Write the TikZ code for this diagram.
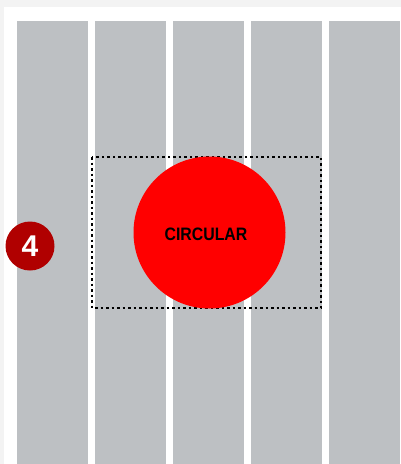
\documentclass[tikz,border=0pt]{standalone}
\usepackage{fontspec}
\setmainfont{Liberation Sans}
\usetikzlibrary{positioning}
\definecolor{Lane}{HTML}{BDC0C3}
\definecolor{Marker}{HTML}{B00000}
\definecolor{Frame}{HTML}{F3F3F3}

\begin{document}
\begin{tikzpicture}[x=1pt,y=-1pt]
    \useasboundingbox (0,0) rectangle (401,464);
    \fill[Frame] (0,0) rectangle (401,464);
    \fill[white] (4,7) rectangle (401,464);
    % vertical lanes
    \foreach \x in {17,95,173,251,329}
      {
        \fill[Lane] (\x,21) rectangle ++(71,443);
      }
    \draw[line width=1.2pt,dash pattern=on 2.5pt off 3pt] (92,157) rectangle (321,308);
    \node[circle,fill=red,minimum size=152pt,inner sep=0pt] (round) at (209.5,232.5) {};
    \node[xscale=0.88,inner sep=0pt,font=\fontsize{18}{18}\selectfont\bfseries]
      (roundlabel) at (206,234.5) {CIRCULAR};
    \node[circle,fill=Marker,minimum size=49pt,inner sep=0pt,text=white,
      font=\fontsize{30}{30}\selectfont\bfseries] (badge) at (30,246) {4};
  \end{tikzpicture}
\end{document}
